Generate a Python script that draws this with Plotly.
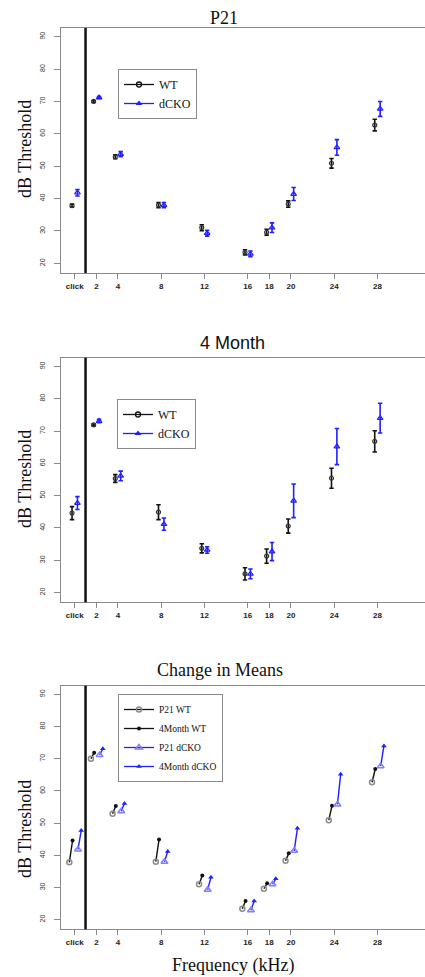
import plotly.graph_objects as go

# ---------------- data ----------------
freqs = [0, 2, 4, 8, 12, 16, 18, 20, 24, 28]
freq_labels = ["click", "2", "4", "8", "12", "16", "18", "20", "24", "28"]

p21_wt = [37.8, 70.0, 52.9, 38.0, 31.0, 23.4, 29.6, 38.3, 50.9, 62.7]
p21_wt_err = [0.5, 0.3, 0.6, 0.8, 0.9, 0.8, 0.9, 1.0, 1.5, 1.8]
p21_dcko = [41.8, 71.2, 53.7, 38.0, 29.3, 22.9, 31.0, 41.4, 55.8, 67.7]
p21_dcko_err = [1.0, 0.3, 0.8, 0.8, 0.9, 0.9, 1.5, 2.0, 2.4, 2.3]

m4_wt = [44.6, 71.9, 55.3, 44.9, 33.7, 25.8, 31.3, 40.6, 55.4, 66.8]
m4_wt_err = [2.0, 0.3, 1.2, 2.3, 1.4, 1.9, 2.2, 2.2, 3.1, 3.3]
m4_dcko = [47.7, 73.1, 56.1, 41.2, 33.2, 25.8, 32.7, 48.4, 65.2, 74.0]
m4_dcko_err = [2.0, 0.5, 1.5, 1.9, 1.0, 1.5, 2.8, 5.2, 5.6, 4.6]

y_ticks = [20, 30, 40, 50, 60, 70, 80, 90]

# ---------------- style ----------------
W, H = 425, 977
SERIF = "Liberation Serif"
SANS = "Liberation Sans"
BLUE = "#1f1fff"
LIGHTBLUE = "#7f7fff"
AXC = "#8a8a8a"

fig = go.Figure()


def shift(xs, d):
    return [x + d for x in xs]


def seg(xa, ya, xb, yb):
    xs, ys = [], []
    for a, b, c, d in zip(xa, ya, xb, yb):
        xs += [a, c, None]
        ys += [b, d, None]
    return xs, ys


def err_trace(x, y, e, color, symbol, msize, xa, ya, mcolor=None, name=None):
    return go.Scatter(
        x=x, y=y, mode="markers", xaxis=xa, yaxis=ya, showlegend=False,
        marker=dict(symbol=symbol, size=msize, color=mcolor or color,
                    line=dict(color=mcolor or color, width=1.2)),
        error_y=dict(type="data", array=e, visible=True, color=color,
                     thickness=1.6, width=2.2),
        hoverinfo="skip",
    )


# panels 1 and 2
for (wt, wte, dk, dke, xa, ya, lg) in [
    (p21_wt, p21_wt_err, p21_dcko, p21_dcko_err, "x", "y", "legend"),
    (m4_wt, m4_wt_err, m4_dcko, m4_dcko_err, "x2", "y2", "legend2"),
]:
    fig.add_trace(err_trace(shift(freqs, -0.25), wt, wte, "#111111",
                            "circle-open", 4, xa, ya, mcolor="#333333"))
    fig.add_trace(err_trace(shift(freqs, 0.25), dk, dke, BLUE,
                            "triangle-up-open", 5, xa, ya))
    # legend entries
    fig.add_trace(go.Scatter(x=[None], y=[None], mode="lines+markers", name="WT",
                             xaxis=xa, yaxis=ya, legend=lg,
                             line=dict(color="#111111", width=1.3),
                             marker=dict(symbol="circle-open", size=5, color="#111111",
                                         line=dict(width=1.3))))
    fig.add_trace(go.Scatter(x=[None], y=[None], mode="lines+markers", name="dCKO",
                             xaxis=xa, yaxis=ya, legend=lg,
                             line=dict(color=BLUE, width=1.3),
                             marker=dict(symbol="triangle-up", size=6, color=BLUE)))

# panel 3 : change in means
xw0, xw1 = shift(freqs, -0.5), shift(freqs, -0.2)
xd0, xd1 = shift(freqs, 0.3), shift(freqs, 0.6)
sx, sy = seg(xw0, p21_wt, xw1, m4_wt)
fig.add_trace(go.Scatter(x=sx, y=sy, mode="lines", xaxis="x3", yaxis="y3",
                         showlegend=False, line=dict(color="#111111", width=1.4),
                         hoverinfo="skip"))
sx, sy = seg(xd0, p21_dcko, xd1, m4_dcko)
fig.add_trace(go.Scatter(x=sx, y=sy, mode="lines", xaxis="x3", yaxis="y3",
                         showlegend=False, line=dict(color=BLUE, width=1.4),
                         hoverinfo="skip"))
fig.add_trace(go.Scatter(x=xw0, y=p21_wt, mode="markers", xaxis="x3", yaxis="y3",
                         name="P21 WT", legend="legend3",
                         marker=dict(symbol="circle-open", size=5, color="#8c8c8c",
                                     line=dict(width=1.5))))
fig.add_trace(go.Scatter(x=xw1, y=m4_wt, mode="markers", xaxis="x3", yaxis="y3",
                         name="4Month WT", legend="legend3",
                         marker=dict(symbol="circle", size=4, color="#111111")))
fig.add_trace(go.Scatter(x=xd0, y=p21_dcko, mode="markers", xaxis="x3", yaxis="y3",
                         name="P21 dCKO", legend="legend3",
                         marker=dict(symbol="triangle-up-open", size=6, color=LIGHTBLUE,
                                     line=dict(width=1.5))))
fig.add_trace(go.Scatter(x=xd1, y=m4_dcko, mode="markers", xaxis="x3", yaxis="y3",
                         name="4Month dCKO", legend="legend3",
                         marker=dict(symbol="triangle-up", size=5, color=BLUE)))

# make panel-3 legend show lines with markers
for tr in fig.data:
    if getattr(tr, "legend", None) == "legend3":
        tr.mode = "lines+markers"
        tr.line = dict(color=BLUE if "dCKO" in tr.name else "#111111", width=1.3)
# hide the connecting lines on the actual marker traces (only lines via segments)
# achieved by zero-length? -> use line width only for legend: separate dummy traces instead
new_data = []
for tr in fig.data:
    if getattr(tr, "legend", None) == "legend3":
        real = go.Scatter(x=tr.x, y=tr.y, mode="markers", xaxis="x3", yaxis="y3",
                          showlegend=False, marker=tr.marker, hoverinfo="skip")
        dummy = go.Scatter(x=[None], y=[None], mode="lines+markers", name=tr.name,
                           legend="legend3", xaxis="x3", yaxis="y3",
                           marker=tr.marker, line=tr.line)
        new_data += [real, dummy]
    else:
        new_data.append(tr)
fig = go.Figure(data=new_data)

# ---------------- layout ----------------
panels = [  # (top px, bottom px)
    (28, 273),
    (357.7, 602.3),
    (685.7, 929.3),
]
xdom = [61 / W, 1.0]

axis_common_x = dict(
    range=[-1.27, 32.4], tickvals=freqs, ticktext=freq_labels,
    ticks="outside", ticklen=5, tickcolor=AXC, tickwidth=1,
    showline=True, linecolor=AXC, linewidth=1, mirror=True,
    showgrid=False, zeroline=False,
    tickfont=dict(family=SANS, size=8, color="#222222", weight="bold"),
)
axis_common_y = dict(
    range=[17.0, 92.7], tickvals=y_ticks, ticktext=[str(v) for v in y_ticks],
    tickangle=-90, ticks="outside", ticklen=6, tickcolor=AXC, tickwidth=1,
    showline=True, linecolor=AXC, linewidth=1, mirror=False,
    showgrid=False, zeroline=False, ticklabelstandoff=6,
    tickfont=dict(family=SANS, size=7, color="#333333"),
)

layout = dict(
    width=W, height=H, margin=dict(l=0, r=0, t=0, b=0),
    paper_bgcolor="white", plot_bgcolor="white", showlegend=True,
)
for i, (top, bot) in enumerate(panels):
    sfx = "" if i == 0 else str(i + 1)
    layout["xaxis" + sfx] = dict(axis_common_x, domain=xdom,
                                 anchor="y" + sfx)
    layout["yaxis" + sfx] = dict(axis_common_y, domain=[1 - bot / H, 1 - top / H],
                                 anchor="x" + sfx)

leg_common = dict(bgcolor="rgba(255,255,255,0)", bordercolor="#8a8a8a", borderwidth=1,
                  xanchor="left", yanchor="top", tracegroupgap=0,
                  font=dict(family=SERIF, size=12, color="#111111"))
layout["legend"] = dict(leg_common, x=118 / W, y=1 - 69 / H)
layout["legend2"] = dict(leg_common, x=117 / W, y=1 - 399 / H)
layout["legend3"] = dict(leg_common, x=118 / W, y=1 - 694 / H,
                         font=dict(family=SERIF, size=9.5, color="#111111"))

annots = []
annots.append(dict(text="P21", x=224 / W, y=1 - 18 / H, font=dict(family=SERIF, size=18)))
annots.append(dict(text="4 Month", x=232 / W, y=1 - 342.7 / H, font=dict(family=SANS, size=18)))
annots.append(dict(text="Change in Means", x=220 / W, y=1 - 670 / H,
                   font=dict(family=SERIF, size=18)))
annots.append(dict(text="Frequency (kHz)", x=233 / W, y=1 - 965 / H,
                   font=dict(family=SERIF, size=18)))
for yc in [149, 479, 829]:
    annots.append(dict(text="dB Threshold", x=25 / W, y=1 - yc / H, textangle=-90,
                       font=dict(family=SERIF, size=18)))
for a in annots:
    a.update(xref="paper", yref="paper", showarrow=False, xanchor="center",
             yanchor="middle")
    a["font"]["color"] = "#111111"
layout["annotations"] = annots

shapes = []
for i in range(3):
    sfx = "" if i == 0 else str(i + 1)
    shapes.append(dict(type="line", xref="x" + sfx, yref="y" + sfx + " domain",
                       x0=1, x1=1, y0=0, y1=1, line=dict(color="#111111", width=2.5)))
layout["shapes"] = shapes

fig.update_layout(**layout)
fig.write_html("out.html", config={"displayModeBar": False})
